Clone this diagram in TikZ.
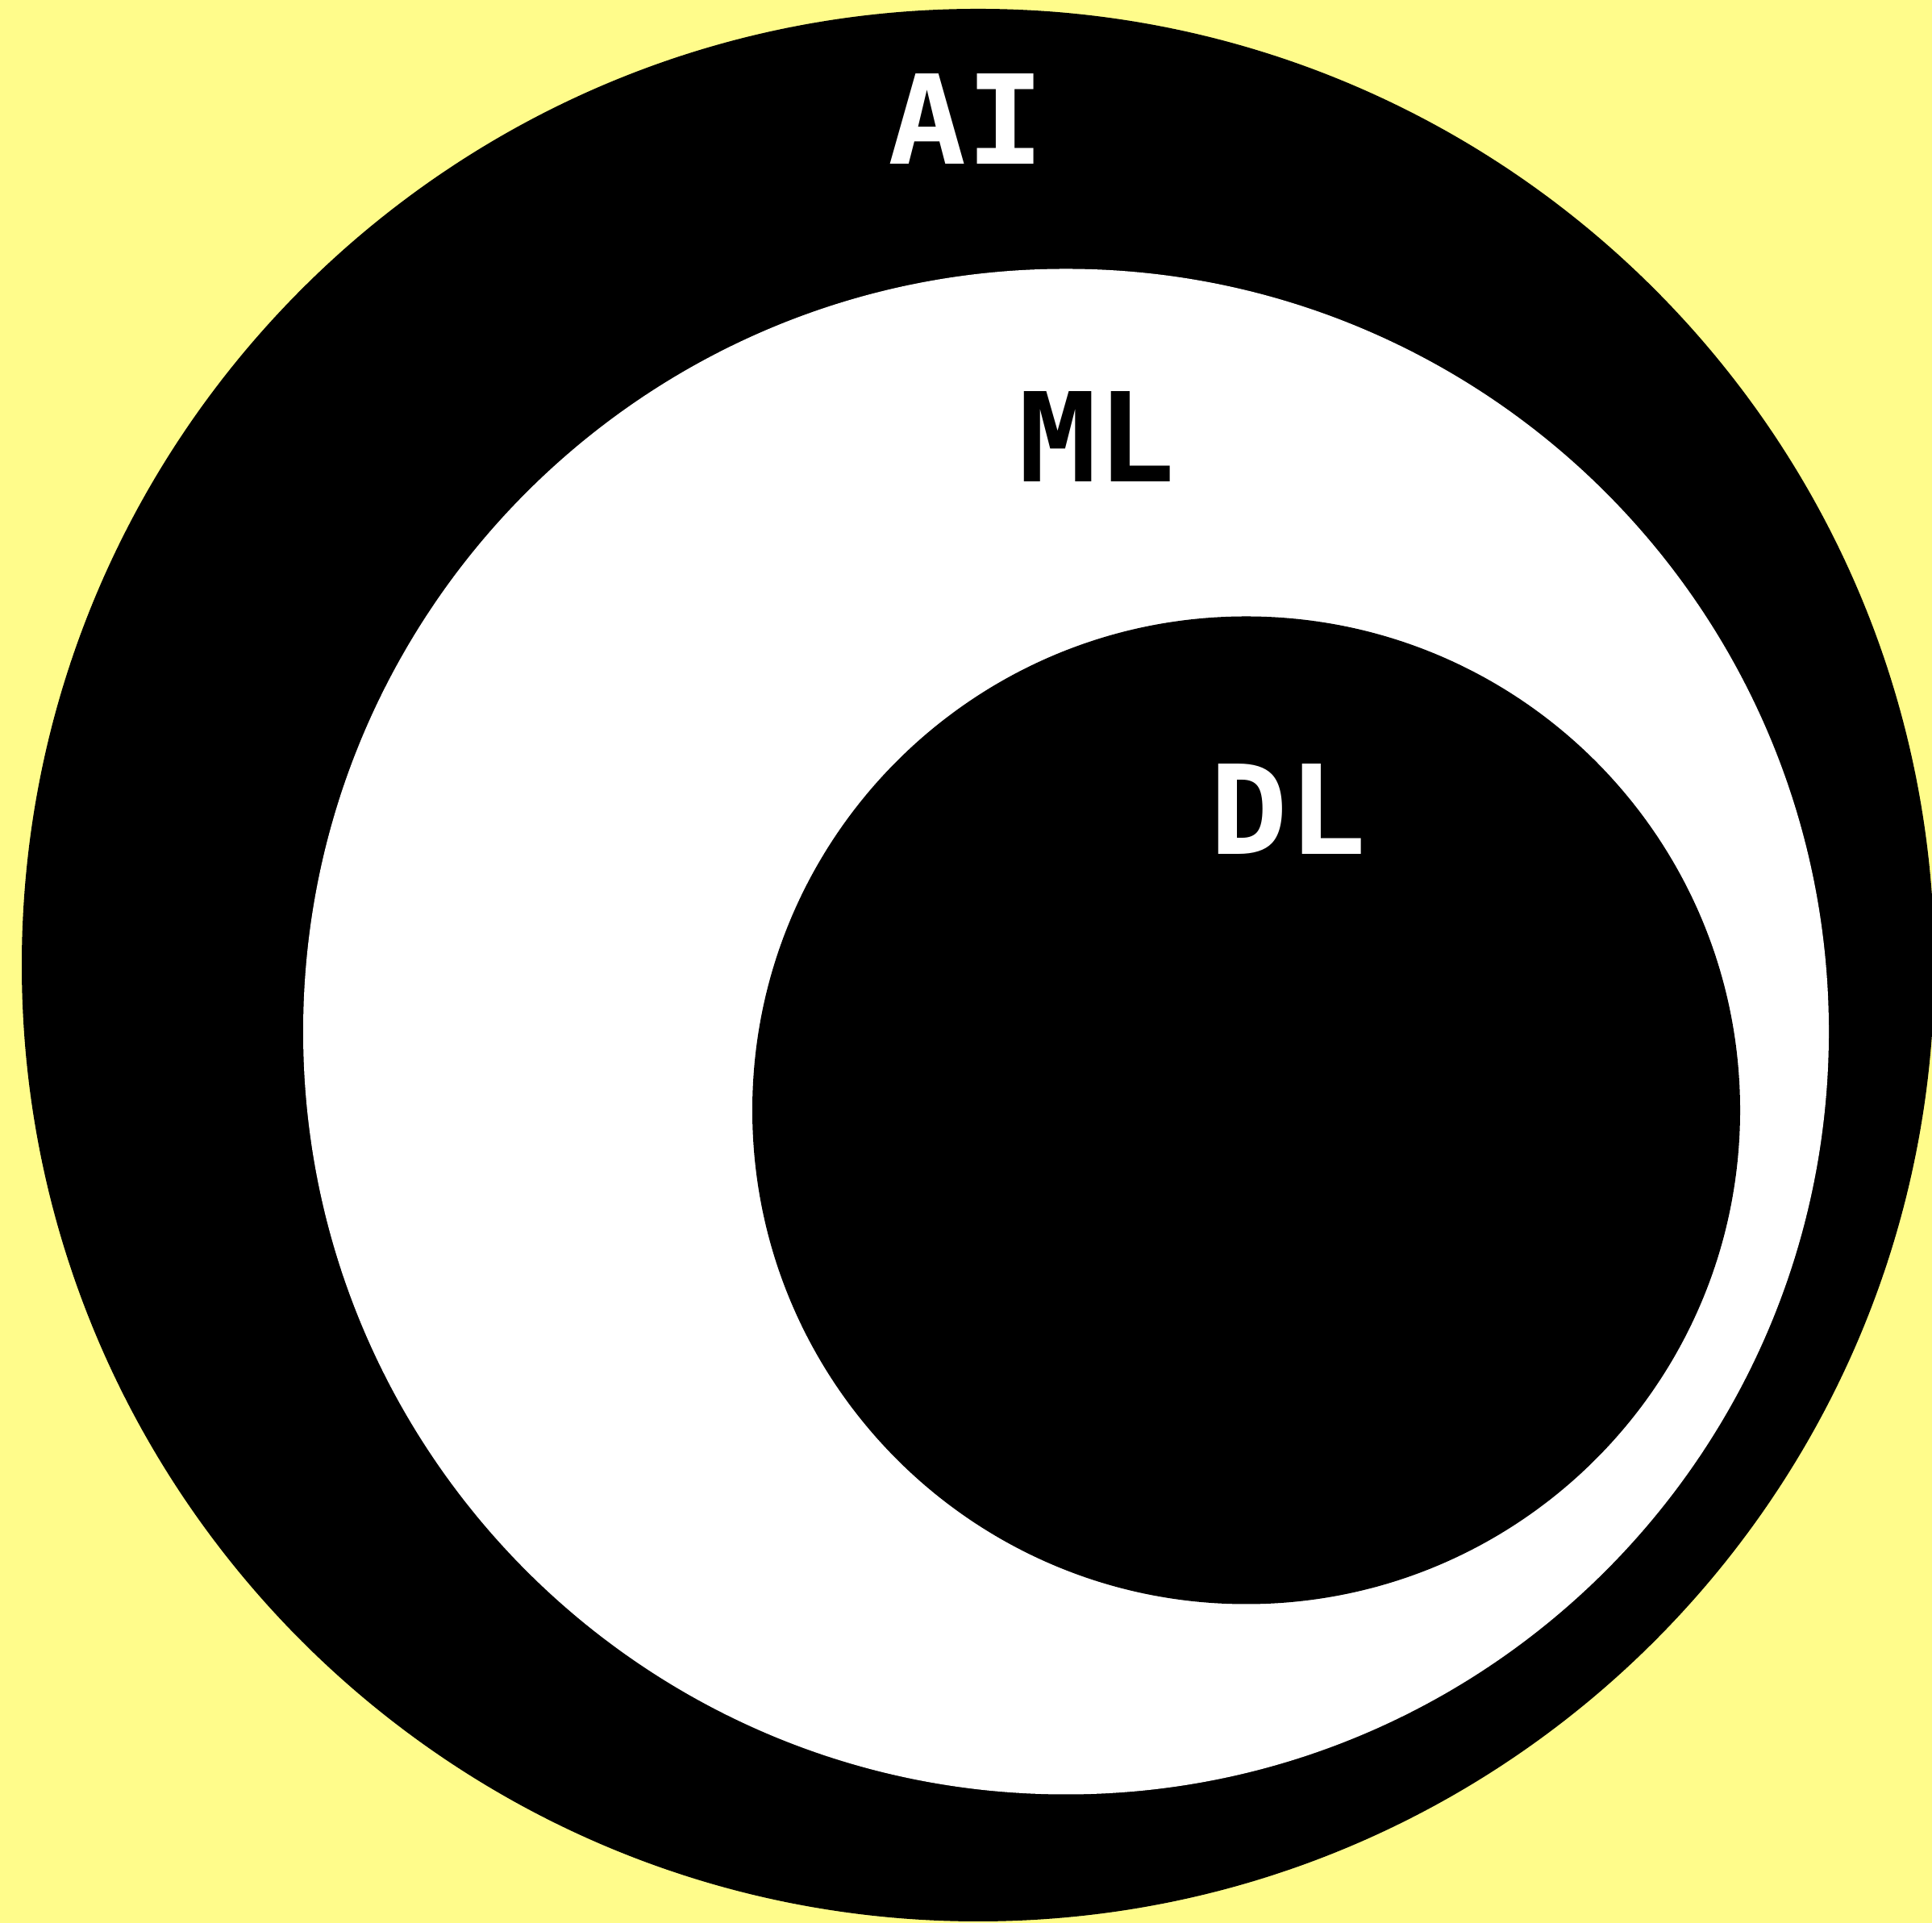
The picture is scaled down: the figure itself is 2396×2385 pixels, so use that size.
\documentclass[tikz,border=0pt]{standalone}
\usepackage{fontspec}
\newfontfamily\labelfont{DejaVu Sans Mono}[BoldFont={DejaVu Sans Mono Bold},BoldFeatures={FakeStretch=1.05}]
\definecolor{bgyellow}{HTML}{FFFC8B}
\begin{document}
\begin{tikzpicture}[x=0.25pt,y=0.25pt,
  lbl/.style={inner sep=0pt, outer sep=0pt, anchor=center, font=\labelfont\bfseries\fontsize{38.4pt}{40pt}\selectfont}]
\useasboundingbox (0,0) rectangle (2396,2385);
\fill[bgyellow] (0,0) rectangle (2396,2385);
\begin{scope}
\clip (0,0) rectangle (2396,2385);
\fill[black] (1213,1188) circle[radius=1186];
\fill[white] (1322,1105.5) circle[radius=946];
\fill[black] (1545.5,1008) circle[radius=612.5];
\end{scope}
\node[lbl, text=white] (ai) at (1198.5,2237.5) {AI};
\node[lbl, text=black] (ml) at (1360.5,1843) {ML};
\node[lbl, text=white] (dl) at (1597.5,1381) {DL};
\end{tikzpicture}
\end{document}
